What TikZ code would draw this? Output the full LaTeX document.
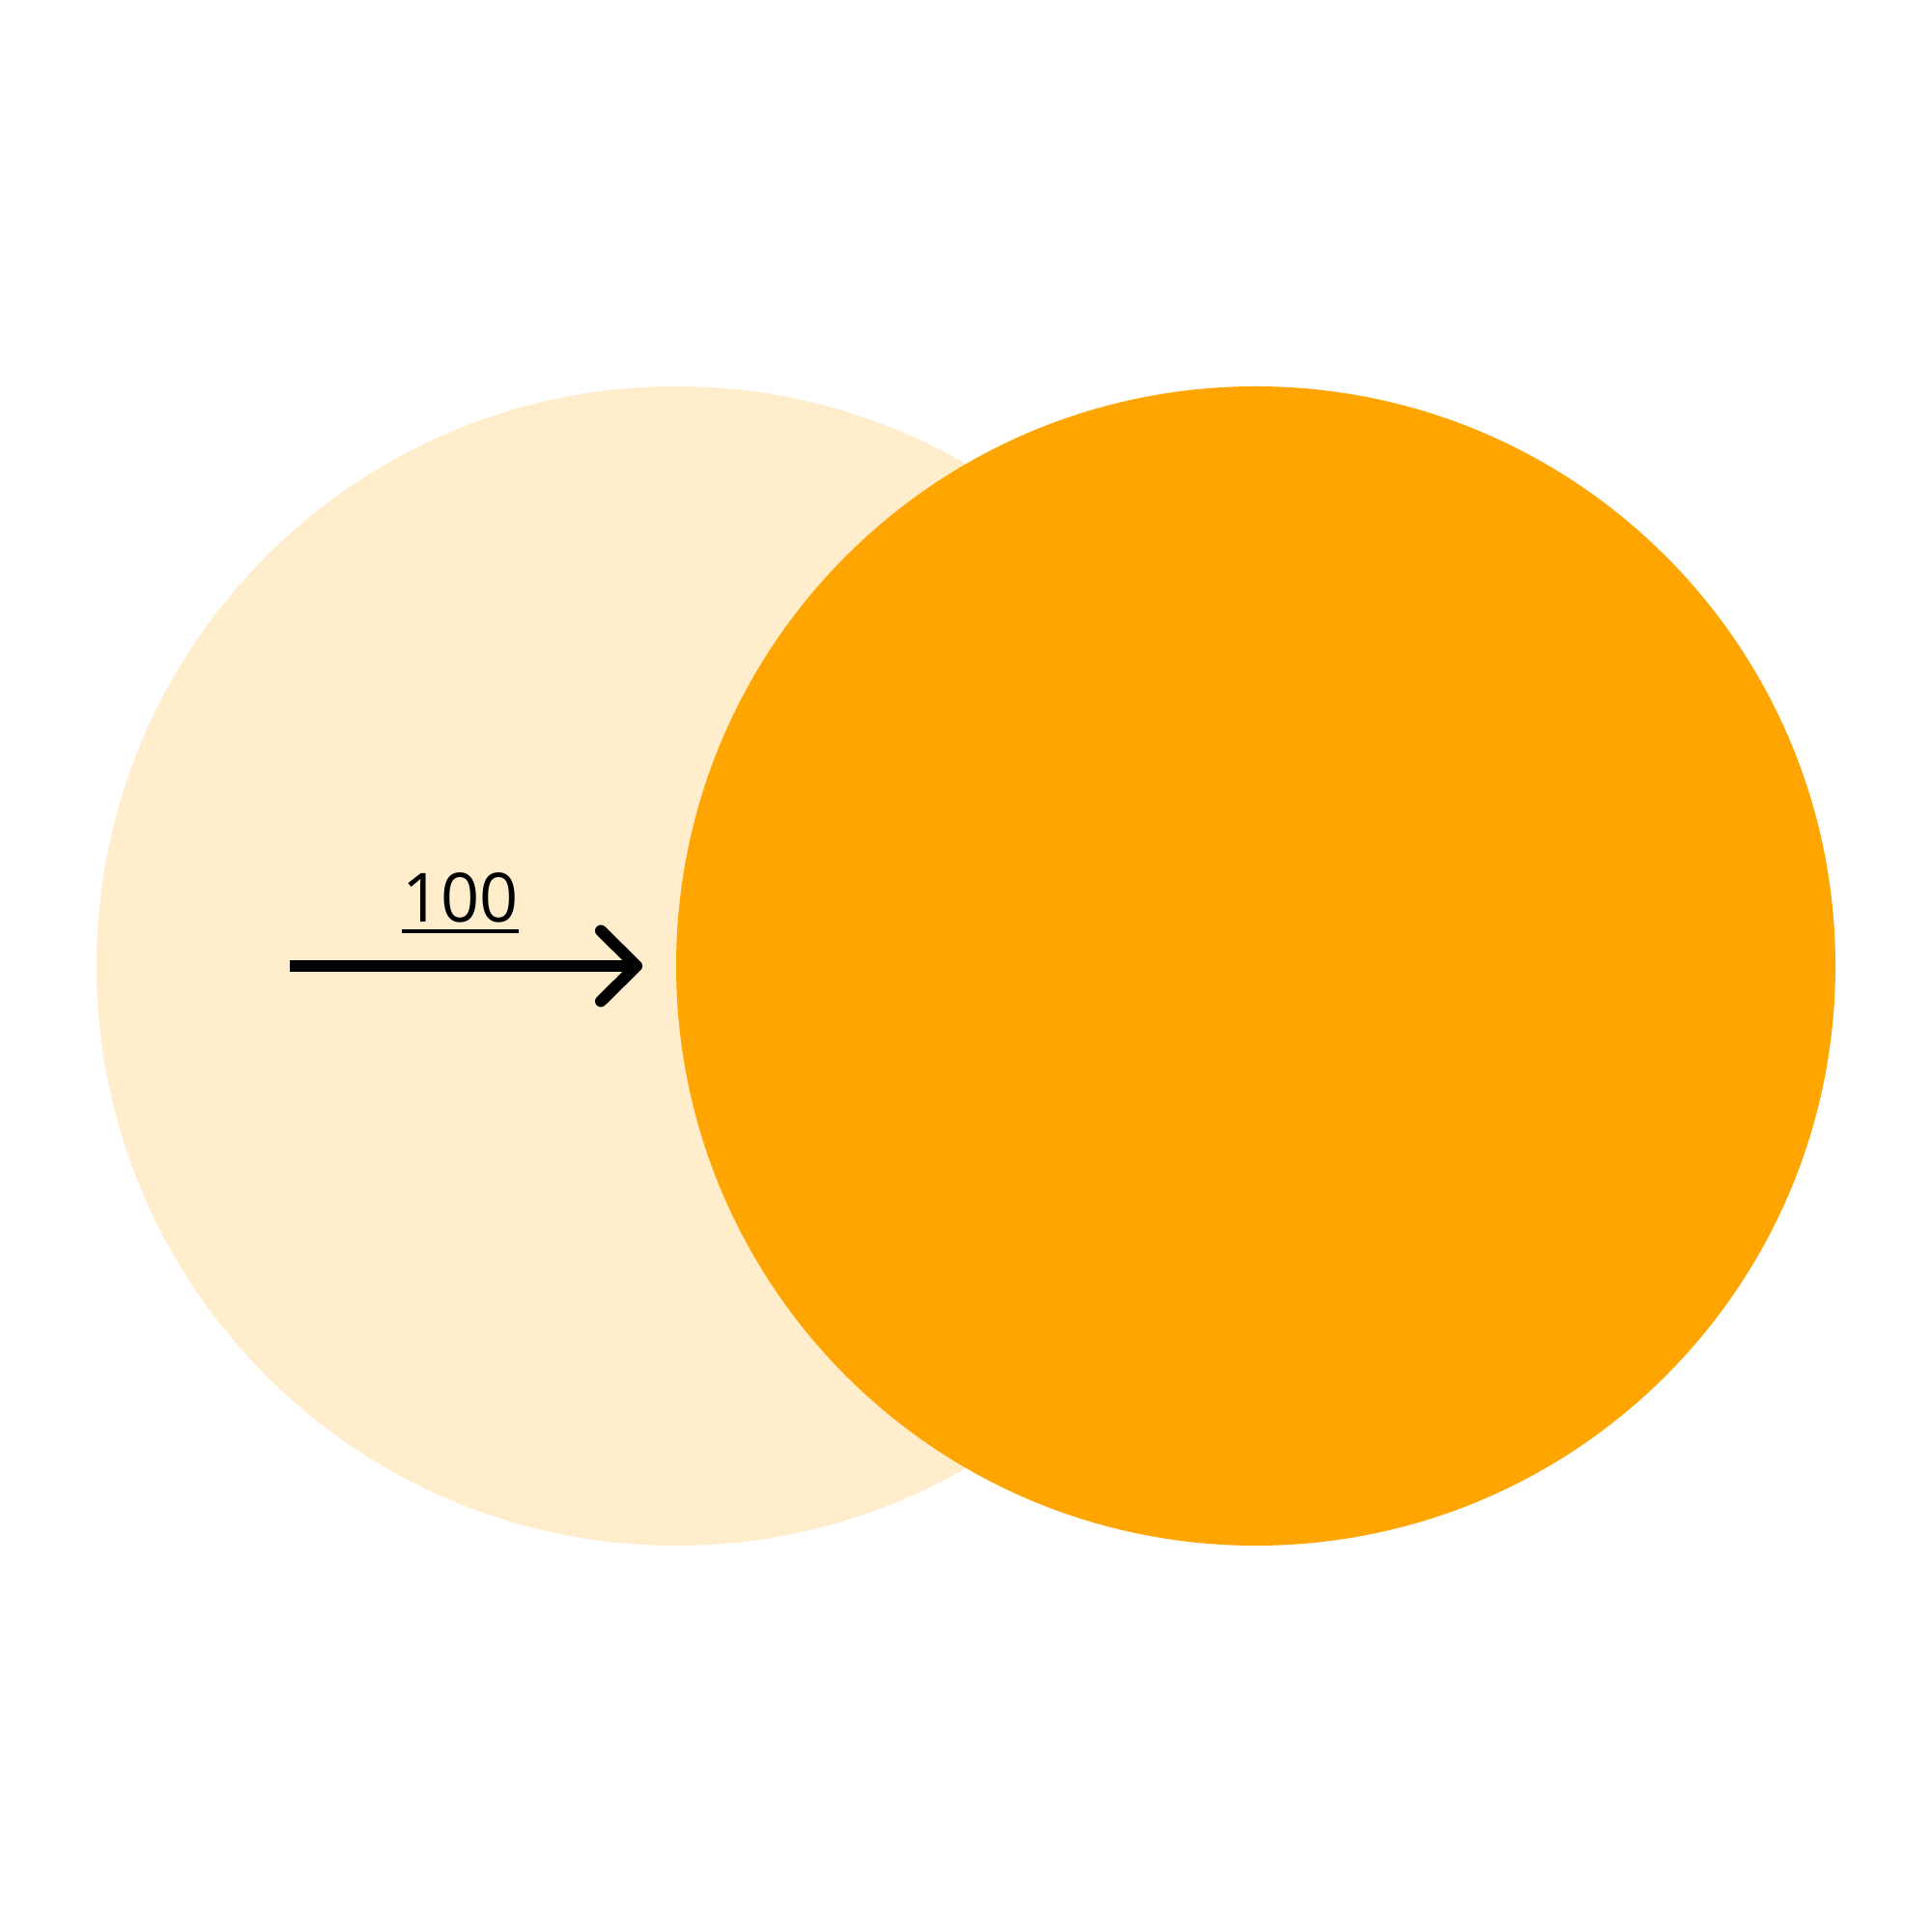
\documentclass[tikz,border=0pt]{standalone}
\usepackage{fontspec}
\setmainfont{Open Sans}
\usetikzlibrary{arrows.meta}
\definecolor{orangeA}{HTML}{FFA500}
\definecolor{paleA}{HTML}{FFEDCC}
\tikzset{
  disc/.style={circle, minimum size=12cm, inner sep=0pt, draw=none},
  flow/.style={line width=0.12cm, -{Straight Barb[length=0.37cm, width=0.73cm, line cap=round, line join=round]}},
  valuelabel/.style={inner xsep=0pt, inner ysep=0pt, font=\fontsize{20}{24}\selectfont, anchor=base},
  uline/.style={line width=0.035cm}
}
\begin{document}
\begin{tikzpicture}
\useasboundingbox (0,0) rectangle (20,20);
\node[disc, fill=paleA] (src) at (7,10) {};
\node[disc, fill=orangeA] (dst) at (13,10) {};
\coordinate (start) at (3.0,10);
\coordinate (tip) at (6.65,10);
\draw[flow] (start) -- (tip);
\node[valuelabel] (lbl) at (4.765,10.45) {100};
\draw[uline] ([yshift=-0.09cm]lbl.base west) -- ([yshift=-0.09cm]lbl.base east);
\end{tikzpicture}
\end{document}
